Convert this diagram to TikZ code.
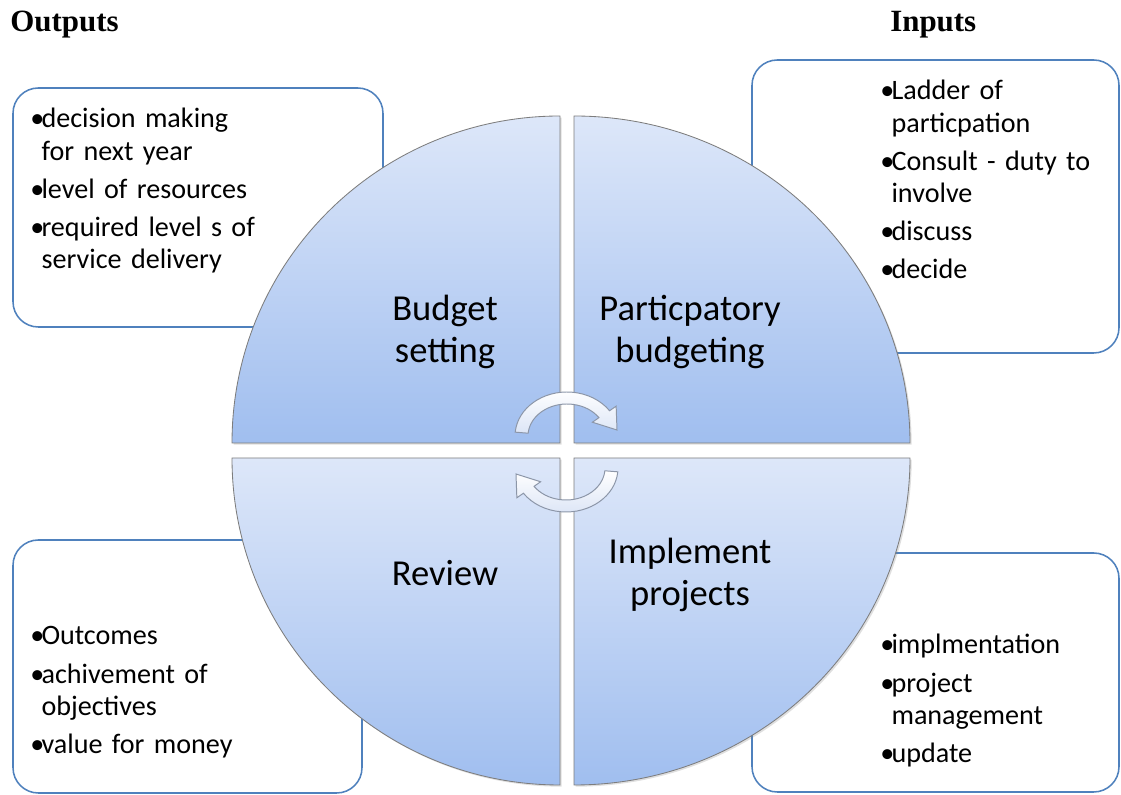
\documentclass[tikz,border=0pt]{standalone}
\usepackage{fontspec}
\setmainfont{Carlito}
\newfontfamily\headfont{Liberation Serif}
\usepackage{xcolor}
\usepackage{tikz}
\usetikzlibrary{shadows}

\definecolor{boxblue}{RGB}{79,129,189}
\definecolor{segtop}{RGB}{221,231,249}
\definecolor{segbot}{RGB}{160,190,239}
\definecolor{segline}{RGB}{125,125,125}
\definecolor{arrline}{RGB}{140,150,168}
\definecolor{arrfill}{RGB}{220,229,246}

% bullet and continuation line starts
\newlength\bulletw
\setlength\bulletw{8pt}
\newcommand\bul{\makebox[\bulletw][l]{\textbullet}}
\newcommand\cnt{\hspace*{\bulletw}}

\tikzset{
  sidebox/.style={draw=boxblue, line width=1.1pt, fill=white, rounded corners=18pt},
  listtext/.style={anchor=base west, inner sep=0, text width=7cm, align=left,
    font=\fontsize{20}{22.8}\selectfont},
  quarter/.style={draw=segline, line width=.6pt, top color=segtop, bottom color=segbot,
    drop shadow={opacity=.25, shadow xshift=1.2pt, shadow yshift=-1.2pt}},
  seglabel/.style={align=center, inner sep=0, font=\fontsize{26}{30}\selectfont},
  heading/.style={anchor=west, inner sep=0, font=\headfont\bfseries\fontsize{22}{26}\selectfont},
  cyclearrow/.pic={
    \draw[draw=arrline, line width=.7pt, top color=white, bottom color=arrfill]
      (175:52 and 44) arc[start angle=175, end angle=35, x radius=52, y radius=44]
      -- (35:60 and 52) -- (50,6) -- (35:31 and 24) -- (35:39 and 32)
      arc[start angle=35, end angle=175, x radius=39, y radius=32] -- cycle;
  }
}

\begin{document}
\begin{tikzpicture}[x=.025cm, y=.025cm]
    \useasboundingbox (0,0) rectangle (1121,795);

    % side boxes
    \draw[sidebox] (13,468) rectangle (383,707);
    \draw[sidebox] (752,442) rectangle (1119,735);
    \draw[sidebox] (13,2) rectangle (362,255);
    \draw[sidebox] (752,3) rectangle (1119,242);

    % the four quarters
    \path[quarter] (560,352) -- (232,352) arc[start angle=180, end angle=90, x radius=328, y radius=327] -- cycle;
    \path[quarter] (574,352) -- (574,679) arc[start angle=90, end angle=0, x radius=336, y radius=327] -- cycle;
    \path[quarter] (560,337) -- (232,337) arc[start angle=180, end angle=270, x radius=328, y radius=327] -- cycle;
    \path[quarter] (574,337) -- (910,337) arc[start angle=0, end angle=-90, x radius=336, y radius=327] -- cycle;

    % cycle arrows
    \pic at (567,359) {cyclearrow};
    \pic[rotate=180] at (566,327) {cyclearrow};

    % headings
    \node[heading] (outputs) at (10,770) {Outputs};
    \node[heading] (inputs) at (890,770) {Inputs};

    % quarter labels
    \node[seglabel] (budget) at (445,463) {Budget\\setting};
    \node[seglabel] (partic) at (690,463) {Particpatory\\budgeting};
    \node[seglabel] (review) at (445,222) {Review};
    \node[seglabel] (implement) at (690,220) {Implement\\projects};

    % box lists
    \node[listtext] (outlist) at (30,667) {%
      \bul decision making\\ \cnt for next year\\[4.3pt]
      \bul level of resources\\[4.3pt]
      \bul required level s of\\ \cnt service delivery};
    \node[listtext] (inlist) at (880,695) {%
      \bul Ladder of\\ \cnt particpation\\[4.3pt]
      \bul Consult - duty to\\ \cnt involve\\[4.3pt]
      \bul discuss\\[4.3pt]
      \bul decide};
    \node[listtext] (reviewlist) at (30,150) {%
      \bul Outcomes\\[4.3pt]
      \bul achivement of\\ \cnt objectives\\[4.3pt]
      \bul value for money};
    \node[listtext] (impllist) at (880,141) {%
      \bul implmentation\\[4.3pt]
      \bul project\\ \cnt management\\[4.3pt]
      \bul update};
\end{tikzpicture}
\end{document}
